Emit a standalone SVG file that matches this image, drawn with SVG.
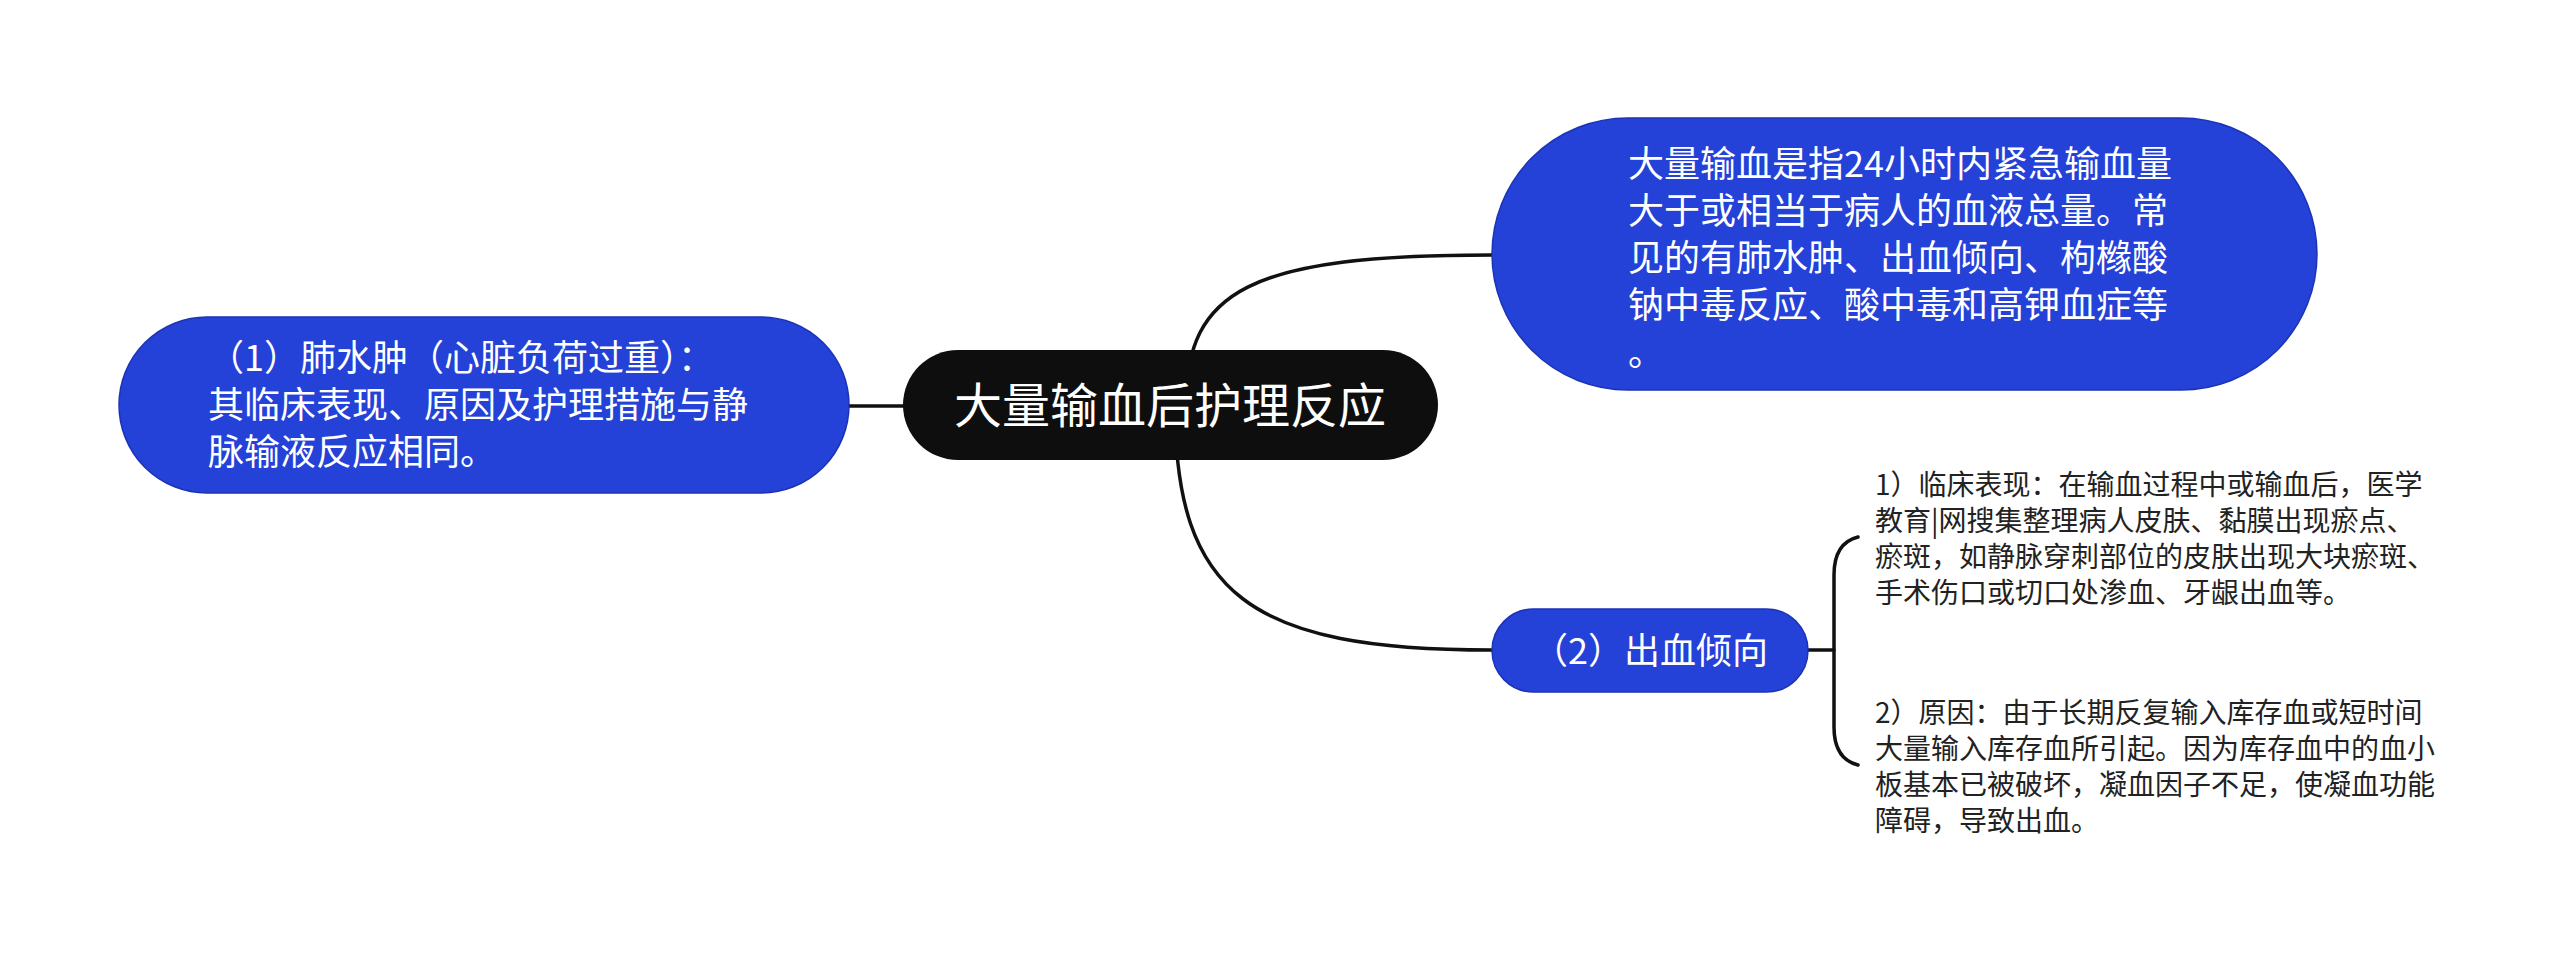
<svg xmlns="http://www.w3.org/2000/svg" width="2560" height="969" viewBox="0 0 2560 969">
<style>
.conn{fill:none;stroke:#111;stroke-width:3.5;stroke-linecap:round}
.blue{fill:#2441d8;stroke:#1c33b5;stroke-width:1.5}
.root{fill:#0e0e0e}
.t{font-family:"Noto Sans CJK SC","Noto Sans",sans-serif}
.w{fill:#fff}
.leaf{fill:#222;font-size:28px}
</style>
<rect width="2560" height="969" fill="#fff"/>
<g id="connectors">
<path class="conn" d="M 849 406 L 903 406"/>
<path class="conn" d="M 1186 405 C 1186 290, 1250 255, 1492 255"/>
<path class="conn" d="M 1175 405 C 1175 595, 1250 650, 1492 650"/>
<path class="conn" d="M 1808 650 L 1834 650"/>
<path class="conn" d="M 1858 537 Q 1834 543 1834 575 L 1834 727 Q 1834 759 1858 765"/>
</g>
<g id="root">
<rect class="root" x="903" y="350" width="535" height="110" rx="55"/>
<text class="t w" x="1170" y="423" font-size="48" text-anchor="middle">大量输血后护理反应</text>
</g>
<g id="node-left">
<rect class="blue" x="119" y="317" width="730" height="176" rx="88"/>
<text class="t w" font-size="36"><tspan x="208" y="371">（1）肺水肿（心脏负荷过重）：</tspan><tspan x="208" y="418">其临床表现、原因及护理措施与静</tspan><tspan x="208" y="465">脉输液反应相同。</tspan></text>
</g>
<g id="node-top">
<rect class="blue" x="1492" y="118" width="825" height="272" rx="136"/>
<text class="t w" font-size="36"><tspan x="1628" y="177">大量输血是指24小时内紧急输血量</tspan><tspan x="1628" y="224">大于或相当于病人的血液总量。常</tspan><tspan x="1628" y="271">见的有肺水肿、出血倾向、枸橼酸</tspan><tspan x="1628" y="318">钠中毒反应、酸中毒和高钾血症等</tspan><tspan x="1628" y="366">。</tspan></text>
</g>
<g id="node-bleed">
<rect class="blue" x="1492" y="609" width="316" height="83" rx="41.5"/>
<text class="t w" x="1650" y="664" font-size="36" text-anchor="middle">（2）出血倾向</text>
</g>
<g id="leaf-1">
<text class="t leaf"><tspan x="1875" y="495">1）临床表现：在输血过程中或输血后，医学</tspan><tspan x="1875" y="531">教育|网搜集整理病人皮肤、黏膜出现瘀点、</tspan><tspan x="1875" y="567">瘀斑，如静脉穿刺部位的皮肤出现大块瘀斑、</tspan><tspan x="1875" y="603">手术伤口或切口处渗血、牙龈出血等。</tspan></text>
</g>
<g id="leaf-2">
<text class="t leaf"><tspan x="1875" y="723">2）原因：由于长期反复输入库存血或短时间</tspan><tspan x="1875" y="759">大量输入库存血所引起。因为库存血中的血小</tspan><tspan x="1875" y="795">板基本已被破坏，凝血因子不足，使凝血功能</tspan><tspan x="1875" y="831">障碍，导致出血。</tspan></text>
</g>
</svg>
